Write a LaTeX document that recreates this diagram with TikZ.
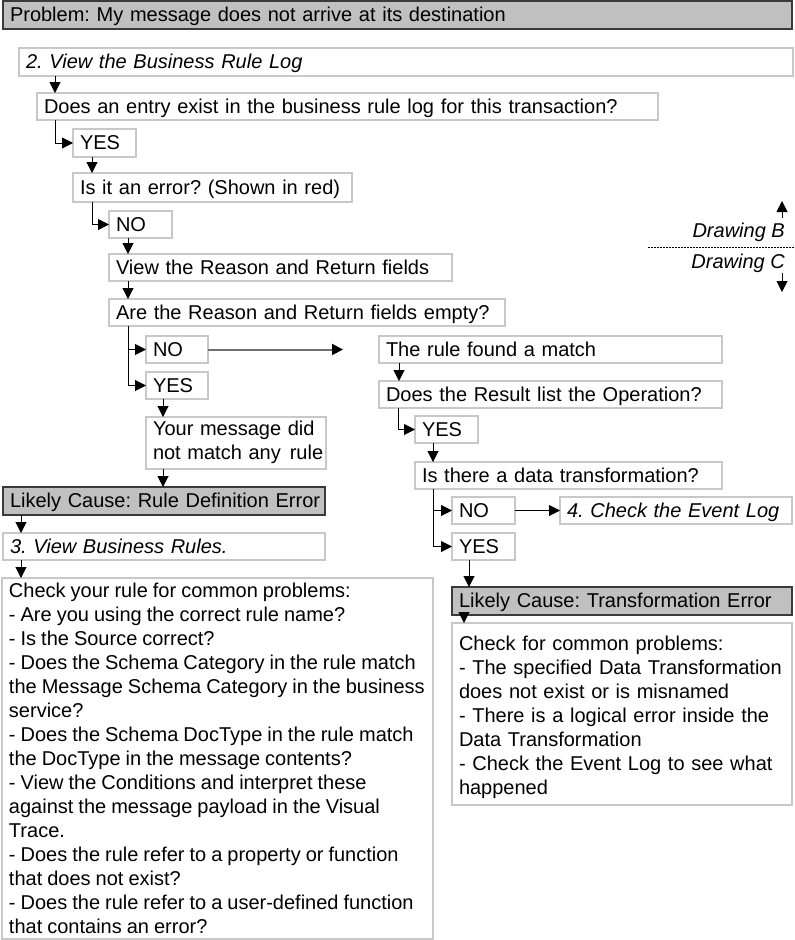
\documentclass[tikz,border=0pt]{standalone}
\usepackage{fontspec}
\setmainfont{Liberation Sans}
\usetikzlibrary{arrows.meta}
\definecolor{boxline}{HTML}{C8C8C8}
\definecolor{causefill}{HTML}{C0C0C0}
\definecolor{causeline}{HTML}{3A3A3A}
\definecolor{midgray}{HTML}{707070}
\newcommand\firstln[1]{\rule{0pt}{#1}}
\newcommand\lastln[1]{\rule[-#1]{0pt}{#1}}
\begin{document}
\frenchspacing
\begin{tikzpicture}[x=1pt,y=-1pt,
  box/.style={draw=boxline, line width=1.2pt, fill=white, anchor=north west,
    inner xsep=7pt, inner ysep=0pt, outer sep=0pt, align=left,
    font=\fontsize{20}{24}\selectfont\frenchspacing},
  one/.style={text height=15pt, text depth=2pt},
  itbox/.style={box, one, font=\fontsize{20}{24}\selectfont\frenchspacing\itshape},
  cause/.style={box, one, draw=causeline, fill=causefill},
  arr/.style={draw=black, line width=1pt, -{Triangle[length=11pt,width=11pt]}},
  grayarr/.style={draw=midgray, line width=2pt, -{Triangle[length=11pt,width=11pt,color=black]}},
  sidetext/.style={font=\fontsize{20}{24}\selectfont\itshape, inner sep=0pt}
]
\useasboundingbox (0,0) rectangle (795,940);

% top problem
\node[cause, text width=775pt, minimum height=28pt] (prob) at (3,1) {\mbox{Problem: My message does not arrive at its destination}};

% left column
\node[itbox, text width=760pt, minimum height=28pt] (view) at (19,48) {\mbox{2. View the Business Rule Log}};
\node[box, one, text width=607pt, minimum height=27pt] (entry) at (37,93) {\mbox{Does an entry exist in the business rule log for this transaction?}};
\node[box, one, text width=49pt, minimum height=28pt] (yes1) at (73,129) {YES};
\node[box, one, text width=265pt, minimum height=29pt] (err) at (73,173) {\mbox{Is it an error? (Shown in red)}};
\node[box, one, text width=49pt, minimum height=27pt] (no1) at (109,211) {NO};
\node[box, one, text width=329pt, minimum height=27pt] (vreason) at (109,254) {\mbox{View the Reason and Return fields}};
\node[box, one, text width=382pt, minimum height=27pt] (are) at (109,299) {\mbox{Are the Reason and Return fields empty?}};
\node[box, one, text width=48pt, minimum height=27pt] (no2) at (146,336) {NO};
\node[box, one, text width=48pt, minimum height=27pt] (yes2) at (146,372) {YES};
\node[box, text width=166pt, minimum height=52pt] (yourmsg) at (146,417) {\firstln{18pt}\mbox{Your message did}\\\mbox{not match any\hspace{9pt}rule}\lastln{10pt}};
\node[cause, text width=308pt, minimum height=28pt] (lcrde) at (3,487) {\mbox{Likely Cause: Rule Definition Error}};
\node[itbox, text width=308pt, minimum height=27pt] (vbr) at (3,533) {\mbox{3. View Business Rules.}};
\node[box, text width=417pt, minimum height=360pt] (check1) at (2,578) {\spaceskip=5pt\relax\firstln{19pt}\mbox{Check your rule for common problems:}\\
\mbox{- Are you using the correct rule name?}\\
\mbox{- Is the Source correct?}\\
\mbox{- Does the Schema Category in the rule match}\\
\mbox{the Message Schema Category in the business}\\
\mbox{service?}\\
\mbox{- Does the Schema DocType in the rule match}\\
\mbox{the DocType in the message contents?}\\
\mbox{- View the Conditions and interpret these}\\
\mbox{against the message payload in the Visual}\\
\mbox{Trace.}\\
\mbox{- Does the rule refer to a property or function}\\
\mbox{that does not exist?}\\
\mbox{- Does the rule refer to a user-defined function}\\
\mbox{that contains an error?}\lastln{6pt}};

% right column
\node[box, one, text width=329pt, minimum height=27pt] (found) at (379,336) {\mbox{The rule found a match}};
\node[box, one, text width=329pt, minimum height=27pt] (result) at (379,381) {\mbox{Does the Result list the Operation?}};
\node[box, one, text width=49pt, minimum height=27pt] (yes3) at (415,416) {YES};
\node[box, one, text width=293pt, minimum height=27pt] (isthere) at (415,462) {\mbox{Is there a data transformation?}};
\node[box, one, text width=49pt, minimum height=27pt] (no3) at (452,497) {NO};
\node[box, one, text width=49pt, minimum height=27pt] (yes4) at (452,533) {YES};
\node[itbox, text width=218pt, minimum height=27pt] (event) at (560,497) {\mbox{4. Check the Event Log}};
\node[cause, text width=326pt, minimum height=28pt] (lcte) at (452,587) {\mbox{Likely Cause: Transformation Error}};
\node[box, text width=326pt, minimum height=182pt] (check2) at (452,623) {\firstln{27pt}\mbox{Check for common problems:}\\
\mbox{- The specified Data Transformation}\\
\mbox{does not exist or is misnamed}\\
\mbox{- There is a logical error inside the}\\
\mbox{Data Transformation}\\
\mbox{- Check the Event Log to see what}\\
\mbox{happened}\lastln{11pt}};

% drawing B / C marker
\node[sidetext, anchor=base east] (drawb) at (785,237) {Drawing B};
\node[sidetext, anchor=base east] (drawc) at (785,268) {Drawing C};
\coordinate (upfrom) at (782,218);
\coordinate (upto) at (782,201);
\coordinate (downfrom) at (782,273);
\coordinate (downto) at (782,292);
\coordinate (dashl) at (648,247);
\coordinate (dashr) at (795,247);
\draw[arr] (upfrom) -- (upto);
\draw[arr] (downfrom) -- (downto);
\draw[line width=1pt, dash pattern=on 2pt off 1pt] (dashl) -- (dashr);

% connectors
\draw[arr] ([xshift=36pt]view.south west) -- ([xshift=18pt]entry.north west);
\draw[arr] ([xshift=18pt]entry.south west) |- (yes1.west);
\draw[arr] ([xshift=19pt]yes1.south west) -- ([xshift=19pt]err.north west);
\draw[arr] ([xshift=19pt]err.south west) |- (no1.west);
\draw[arr] ([xshift=19pt]no1.south west) -- ([xshift=19pt]vreason.north west);
\draw[arr] ([xshift=19pt]vreason.south west) -- ([xshift=19pt]are.north west);
\draw[arr] ([xshift=19pt]are.south west) |- (no2.west);
\draw[arr] ([xshift=19pt]are.south west) |- (yes2.west);
\coordinate (noend) at (343,349.5);
\draw[grayarr] (no2.east) -- (noend);
\draw[arr] ([xshift=17pt]yes2.south west) -- ([xshift=17pt]yourmsg.north west);
\draw[arr] ([xshift=17pt]yourmsg.south west) -- ([xshift=160pt]lcrde.north west);
\draw[arr] ([xshift=18pt]lcrde.south west) -- ([xshift=18pt]vbr.north west);
\draw[arr] ([xshift=18pt]vbr.south west) -- ([xshift=19pt]check1.north west);

\draw[arr] ([xshift=20pt]found.south west) -- ([xshift=20pt]result.north west);
\draw[arr] ([xshift=19pt]result.south west) |- (yes3.west);
\draw[arr] ([xshift=18pt]yes3.south west) -- ([xshift=18pt]isthere.north west);
\draw[arr] ([xshift=18pt]isthere.south west) |- (no3.west);
\draw[arr] ([xshift=18pt]isthere.south west) |- (yes4.west);
\draw[arr] (no3.east) -- (event.west);
\draw[arr] ([xshift=17pt]yes4.south west) -- ([xshift=17pt]lcte.north west);
\draw[arr] ([xshift=12pt]lcte.south west) -- ([xshift=12pt]check2.north west);
\end{tikzpicture}
\end{document}
